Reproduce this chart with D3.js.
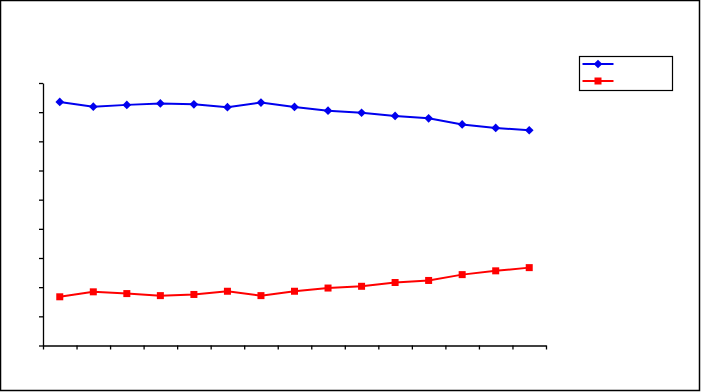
<!DOCTYPE html>
<html>
<head>
<meta charset="utf-8">
<script src="https://cdn.jsdelivr.net/npm/d3@7"></script>
<style>
body{margin:0;background:#fff;}
svg{display:block;}
</style>
</head>
<body>
<svg width="701" height="392"></svg>
<script>
// categories (no labels shown in the original)
var categories = ["1","2","3","4","5","6","7","8","9","10","11","12","13","14","15"];
var seriesA = [83.5,81.9,82.5,83.0,82.7,81.7,83.3,81.8,80.5,79.8,78.7,77.9,75.8,74.6,73.8];
var seriesB = [16.7,18.4,17.8,17.1,17.5,18.6,17.1,18.6,19.7,20.3,21.6,22.3,24.3,25.6,26.7];
var yTicks = [0,10,20,30,40,50,60,70,80,90];

var svg = d3.select("svg");

// outer frame
svg.append("rect")
.attr("x",0.5).attr("y",0.5)
.attr("width",699).attr("height",390)
.attr("fill","#fff")
.attr("stroke","#000")
.attr("stroke-width",1.5);

var xScale = d3.scaleLinear().domain([0,categories.length]).range([43,546]),
    yScale = d3.scaleLinear().domain([0,90]).range([345.5,83]);

svg.append("g")
.attr("transform","translate(0,"+yScale(0)+")")
.call(d3.axisBottom(xScale).tickValues(d3.range(0,categories.length+1))
  .tickFormat("").tickSize(4).tickSizeOuter(0))
.call(function(g){ g.selectAll("path,line").attr("stroke","#000").attr("stroke-width",1.3); });

svg.append("g")
.attr("transform","translate("+xScale(0)+",0)")
.call(d3.axisLeft(yScale).tickValues(yTicks).tickFormat("").tickSize(4).tickSizeOuter(0))
.call(function(g){ g.selectAll("path,line").attr("stroke","#000").attr("stroke-width",1.3); });

var line = d3.line()
.x(function(d,i){ return xScale(i+0.5); })
.y(function(d){ return yScale(d); });

var blue = "#0000ee", red = "#ff0000";

svg.append("path").datum(seriesA)
.attr("d",line).attr("fill","none").attr("stroke",blue).attr("stroke-width",2);
svg.append("path").datum(seriesB)
.attr("d",line).attr("fill","none").attr("stroke",red).attr("stroke-width",2);

var diamond = d3.symbol().type(d3.symbolDiamond2).size(48);
svg.selectAll(".ptA").data(seriesA).enter().append("path")
.attr("class","ptA")
.attr("d",diamond)
.attr("transform",function(d,i){ return "translate("+xScale(i+0.5)+","+yScale(d)+")"; })
.attr("fill",blue);

svg.selectAll(".ptB").data(seriesB).enter().append("rect")
.attr("class","ptB")
.attr("x",function(d,i){ return xScale(i+0.5)-3.5; })
.attr("y",function(d){ return yScale(d)-3.5; })
.attr("width",7).attr("height",7)
.attr("fill",red);

// legend
var lg = svg.append("g").attr("transform","translate(579.5,56.5)");
lg.append("rect").attr("width",93).attr("height",34)
.attr("fill","#fff").attr("stroke","#000").attr("stroke-width",1.2);
lg.append("line").attr("x1",3).attr("x2",34).attr("y1",7.5).attr("y2",7.5)
.attr("stroke",blue).attr("stroke-width",2);
lg.append("path").attr("d",diamond).attr("transform","translate(18.5,7.5)").attr("fill",blue);
lg.append("line").attr("x1",3).attr("x2",34).attr("y1",24.5).attr("y2",24.5)
.attr("stroke",red).attr("stroke-width",2);
lg.append("rect").attr("x",15).attr("y",21).attr("width",7).attr("height",7).attr("fill",red);
</script>
</body>
</html>
